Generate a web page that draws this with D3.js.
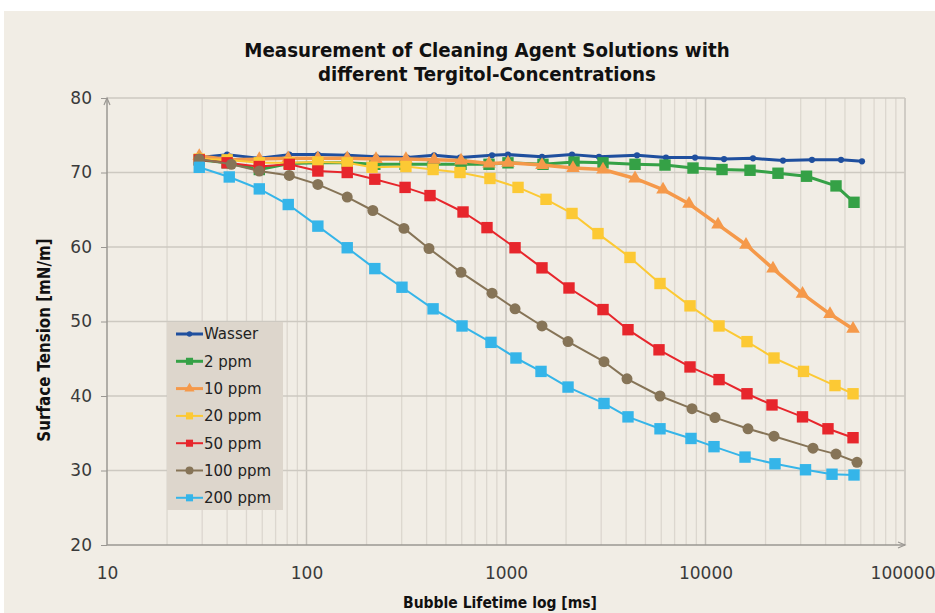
<!DOCTYPE html>
<html>
<head>
<meta charset="utf-8">
<script src="https://cdn.jsdelivr.net/npm/d3@7"></script>
<style>
    body { margin: 0; background: #fff; }
    svg { display: block; }
    .tick text { font-family: "DejaVu Sans", sans-serif; font-size: 17px; fill: #3a3a3a; }
</style>
</head>
<body>
<svg id="chart" width="935" height="613"></svg>
<script>
// series names (legend order)
const seriesNames = ["Wasser", "2 ppm", "10 ppm", "20 ppm", "50 ppm", "100 ppm", "200 ppm"];

// bubble lifetime [ms] of each measured point, per series
const timeWasser = [29, 40, 58, 82, 114, 160, 223, 319, 436, 588, 851, 1023, 1515, 2142, 2925, 4537, 6339, 8859, 12383, 17305, 24460, 34180, 47790, 60870];
const time2 = [29, 40, 58, 82, 114, 160, 220, 312, 431, 595, 822, 1023, 1532, 2193, 3064, 4433, 6266, 8656, 12101, 16716, 23085, 32090, 45100, 55520];
const time10 = [29, 41, 58, 81, 114, 160, 223, 315, 436, 595, 822, 1023, 1515, 2167, 3064, 4433, 6124, 8267, 11555, 15960, 21793, 30640, 42080, 54890];
const time20 = [29, 40, 58, 82, 114, 160, 213, 315, 431, 588, 831, 1149, 1587, 2142, 2892, 4184, 5915, 8363, 11690, 16145, 22047, 30990, 44580, 54890];
const time50 = [29, 40, 58, 82, 114, 160, 220, 312, 416, 609, 803, 1110, 1515, 2069, 3064, 4088, 5848, 8363, 11690, 16145, 21544, 30640, 41110, 54890];
const time100 = [29, 42, 58, 82, 114, 160, 215, 308, 411, 595, 851, 1110, 1515, 2046, 3099, 4041, 5915, 8557, 11157, 16330, 22047, 34580, 45100, 57460];
const time200 = [29, 41, 58, 81, 114, 160, 220, 301, 431, 602, 841, 1122, 1498, 2046, 3099, 4088, 5915, 8459, 11030, 15780, 22301, 31720, 43060, 55520];

// surface tension [mN/m]
const valWasser = [72.0, 72.4, 71.9, 72.4, 72.4, 72.3, 72.1, 72.0, 72.3, 72.0, 72.3, 72.4, 72.1, 72.4, 72.1, 72.3, 72.0, 72.0, 71.8, 71.9, 71.6, 71.7, 71.7, 71.5];
const val2 = [71.7, 71.3, 70.4, 71.2, 71.3, 71.3, 71.1, 71.1, 71.1, 71.1, 71.1, 71.3, 71.1, 71.4, 71.3, 71.1, 71.0, 70.6, 70.4, 70.3, 69.9, 69.5, 68.2, 66.0];
const val10 = [72.2, 71.7, 71.8, 71.9, 71.9, 71.9, 71.8, 71.8, 71.7, 71.6, 71.2, 71.3, 71.0, 70.6, 70.4, 69.2, 67.7, 65.8, 63.0, 60.3, 57.1, 53.7, 51.0, 49.0];
const val20 = [71.8, 71.7, 71.3, 71.3, 71.4, 71.3, 70.7, 70.8, 70.4, 70.0, 69.2, 68.0, 66.4, 64.5, 61.8, 58.6, 55.1, 52.1, 49.4, 47.3, 45.1, 43.3, 41.4, 40.3];
const val50 = [71.7, 71.3, 70.8, 71.1, 70.2, 70.0, 69.1, 68.0, 66.9, 64.7, 62.6, 59.9, 57.2, 54.5, 51.6, 48.9, 46.2, 43.9, 42.2, 40.3, 38.8, 37.2, 35.6, 34.4];
const val100 = [71.8, 71.1, 70.2, 69.6, 68.4, 66.7, 64.9, 62.5, 59.8, 56.6, 53.8, 51.7, 49.4, 47.3, 44.6, 42.3, 40.0, 38.3, 37.1, 35.6, 34.6, 33.0, 32.2, 31.1];
const val200 = [70.7, 69.4, 67.8, 65.7, 62.8, 59.9, 57.1, 54.6, 51.7, 49.4, 47.2, 45.1, 43.3, 41.2, 39.0, 37.2, 35.6, 34.3, 33.2, 31.8, 30.9, 30.1, 29.5, 29.4];

// tick labels
const xTicks = [10, 100, 1000, 10000, 100000];
const yTicks = [20, 30, 40, 50, 60, 70, 80];

const times = [timeWasser, time2, time10, time20, time50, time100, time200];
const values = [valWasser, val2, val10, val20, val50, val100, val200];

// look of each series
const styles = [
    { color: "#1f4f9e", symbol: d3.symbolCircle, size: 30, legendSize: 22, width: 3 },
    { color: "#35a146", symbol: d3.symbolSquare, size: 130, legendSize: 50, width: 3 },
    { color: "#f5994a", symbol: d3.symbolTriangle, size: 80, legendSize: 45, width: 3.5 },
    { color: "#fcc934", symbol: d3.symbolSquare, size: 130, legendSize: 50, width: 2 },
    { color: "#e7262c", symbol: d3.symbolSquare, size: 130, legendSize: 50, width: 2 },
    { color: "#867457", symbol: d3.symbolCircle, size: 95, legendSize: 50, width: 2 },
    { color: "#35b5e9", symbol: d3.symbolSquare, size: 130, legendSize: 50, width: 2 }
];

const series = seriesNames.map((name, i) => ({
    name: name,
    style: styles[i],
    points: times[i].map((t, j) => ({ t: t, v: values[i][j] }))
}));

const svg = d3.select("#chart");

// background
svg.append("rect").attr("width", 935).attr("height", 613).attr("fill", "#fff");
svg.append("rect").attr("x", 4).attr("y", 11).attr("width", 931).attr("height", 602).attr("fill", "#f1ede5");

const plotLeft = 107, plotRight = 905, plotTop = 98, plotBottom = 545;

const x = d3.scaleLog().domain([10, 100000]).range([plotLeft, plotRight]);
const y = d3.scaleLinear().domain([20, 80]).range([plotBottom, plotTop]);

// minor vertical grid
const minor = x.ticks().filter(d => xTicks.indexOf(d) < 0);
svg.append("g")
    .selectAll("line")
    .data(minor)
    .enter()
    .append("line")
    .attr("x1", d => x(d)).attr("x2", d => x(d))
    .attr("y1", plotTop).attr("y2", plotBottom)
    .attr("stroke", "#dcd7cf")
    .attr("stroke-width", 1.3);

// major vertical grid
svg.append("g")
    .selectAll("line")
    .data(xTicks.slice(1))
    .enter()
    .append("line")
    .attr("x1", d => x(d)).attr("x2", d => x(d))
    .attr("y1", plotTop).attr("y2", plotBottom)
    .attr("stroke", "#c5c1ba")
    .attr("stroke-width", 1.5);

// horizontal grid
svg.append("g")
    .selectAll("line")
    .data(yTicks.slice(1))
    .enter()
    .append("line")
    .attr("x1", plotLeft).attr("x2", plotRight)
    .attr("y1", d => y(d)).attr("y2", d => y(d))
    .attr("stroke", "#cdc9c1")
    .attr("stroke-width", 1.5);

// axes
const yAxis = svg.append("g")
    .attr("transform", `translate(${plotLeft},0)`)
    .call(d3.axisLeft(y).tickValues(yTicks).tickSize(6).tickPadding(9));
yAxis.select(".domain").remove();
yAxis.selectAll(".tick line").attr("stroke", "#9a9792");

const xAxis = svg.append("g")
    .attr("transform", `translate(0,${plotBottom})`)
    .call(d3.axisBottom(x).tickValues(xTicks).tickFormat(d3.format("d")).tickSize(0).tickPadding(22));
xAxis.select(".domain").remove();
// last label sits at the right border like in the original, keep it inside
xAxis.selectAll(".tick text").filter(d => d === 100000).attr("text-anchor", "end").attr("x", 30);

svg.append("line")
    .attr("x1", plotLeft).attr("x2", plotLeft).attr("y1", plotTop).attr("y2", plotBottom)
    .attr("stroke", "#9a9792").attr("stroke-width", 1.5);
svg.append("line")
    .attr("x1", plotLeft).attr("x2", plotRight).attr("y1", plotBottom).attr("y2", plotBottom)
    .attr("stroke", "#9a9792").attr("stroke-width", 1.5);

// little arrow heads on the axes
svg.append("path")
    .attr("d", `M${plotLeft - 3},${plotTop + 7}L${plotLeft},${plotTop}L${plotLeft + 3},${plotTop + 7}`)
    .attr("fill", "none").attr("stroke", "#9a9792").attr("stroke-width", 1.2);
svg.append("path")
    .attr("d", `M${plotRight - 7},${plotBottom - 3}L${plotRight},${plotBottom}L${plotRight - 7},${plotBottom + 3}`)
    .attr("fill", "none").attr("stroke", "#9a9792").attr("stroke-width", 1.2);

// lines + markers
const line = d3.line()
    .x(d => x(d.t))
    .y(d => y(d.v));

const groups = svg.append("g")
    .selectAll("g")
    .data(series)
    .enter()
    .append("g");

groups.append("path")
    .attr("d", d => line(d.points))
    .attr("fill", "none")
    .attr("stroke", d => d.style.color)
    .attr("stroke-width", d => d.style.width)
    .attr("stroke-linejoin", "round");

groups.each(function (s) {
    d3.select(this).selectAll(".pt")
        .data(s.points)
        .enter()
        .append("path")
        .attr("class", "pt")
        .attr("transform", d => `translate(${x(d.t)},${y(d.v)})`)
        .attr("d", d3.symbol().type(s.style.symbol).size(s.style.size))
        .attr("fill", s.style.color);
});

// legend
const legend = svg.append("g");
legend.append("rect")
    .attr("x", 167).attr("y", 322)
    .attr("width", 116).attr("height", 188)
    .attr("fill", "#ddd6cc");

const rows = legend.selectAll(".row")
    .data(series)
    .enter()
    .append("g")
    .attr("class", "row")
    .attr("transform", (d, i) => `translate(0,${334 + i * 27.3})`);

rows.append("line")
    .attr("x1", 176).attr("x2", 203)
    .attr("stroke", d => d.style.color)
    .attr("stroke-width", d => Math.min(d.style.width, 3));

rows.append("path")
    .attr("transform", "translate(189.5,0)")
    .attr("d", d => d3.symbol().type(d.style.symbol).size(d.style.legendSize)())
    .attr("fill", d => d.style.color);

rows.append("text")
    .attr("x", 204)
    .attr("dy", "0.36em")
    .style("font-family", "'DejaVu Sans', sans-serif")
    .style("font-size", "15px")
    .attr("fill", "#222")
    .text(d => d.name);

// titles (condensed bold, like the original)
function boldTitle(sel, size) {
    return sel.attr("text-anchor", "middle")
        .style("font-family", "'DejaVu Sans', sans-serif")
        .style("font-stretch", "condensed")
        .style("font-weight", "bold")
        .style("font-size", size)
        .attr("fill", "#111");
}

boldTitle(svg.append("text").attr("x", 487).attr("y", 57), "20.3px")
    .text("Measurement of Cleaning Agent Solutions with");

boldTitle(svg.append("text").attr("x", 487).attr("y", 81), "20.3px")
    .text("different Tergitol-Concentrations");

boldTitle(svg.append("text").attr("transform", "translate(50,340) rotate(-90)"), "16.8px")
    .text("Surface Tension [mN/m]");

boldTitle(svg.append("text").attr("x", 500).attr("y", 608), "15.5px")
    .text("Bubble Lifetime log [ms]");
</script>
</body>
</html>
